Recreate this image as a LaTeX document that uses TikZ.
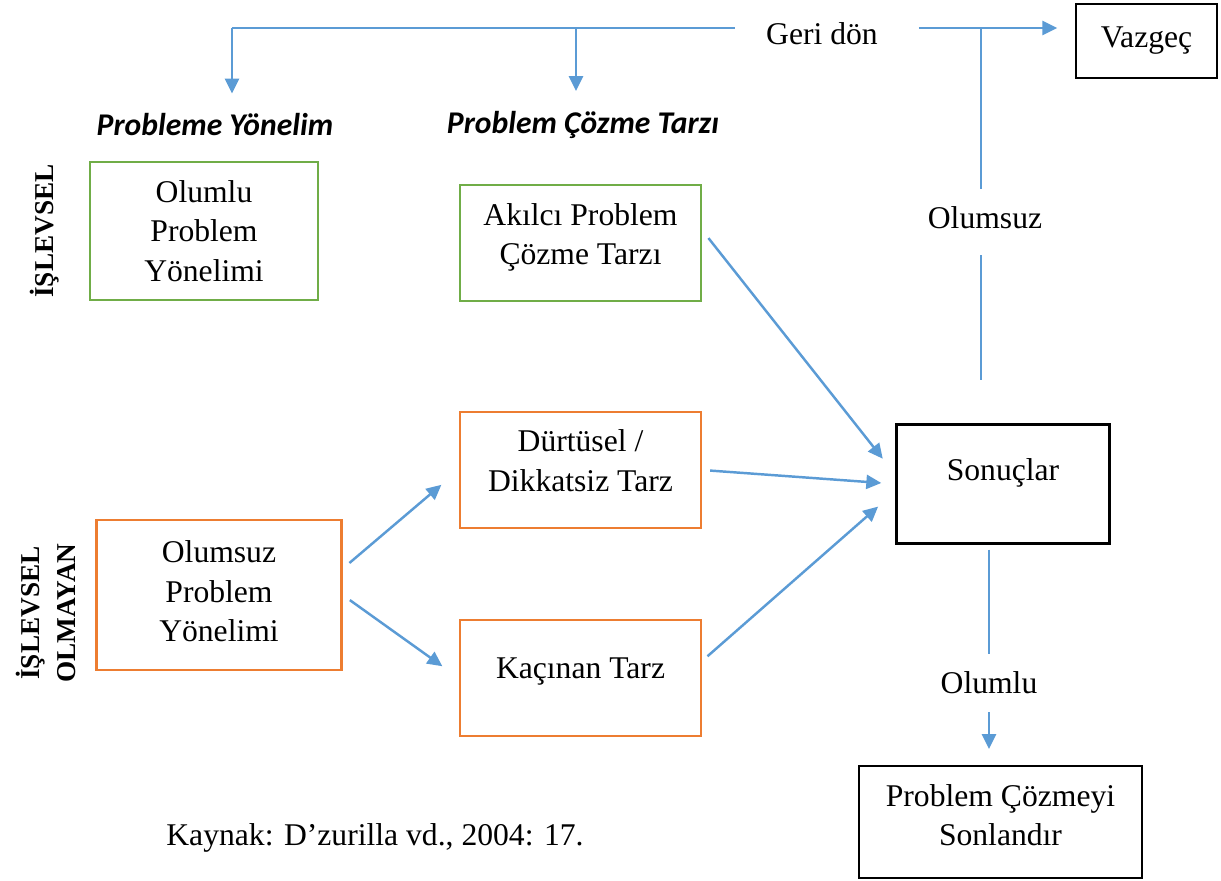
\documentclass[tikz,border=0pt]{standalone}
\usepackage{fontspec}
\setmainfont{Liberation Serif}
\newfontfamily\hdfont{Carlito}
\usepackage{tikz}
\usetikzlibrary{arrows.meta}
\definecolor{lnblue}{HTML}{5B9BD5}
\definecolor{boxgreen}{HTML}{70AD47}
\definecolor{boxorange}{HTML}{ED7D31}

\begin{document}
\begin{tikzpicture}[x=0.02cm,y=-0.02cm,>={Triangle[length=8.5pt,width=8pt]},
    every node/.style={font=\fontsize{18}{22.5}\selectfont},
    kutu/.style={draw,line width=1.4pt,align=center,inner sep=0pt},
    okk/.style={->,lnblue,line width=1.4pt},
    ince/.style={lnblue,line width=0.8pt},
    baslik/.style={font=\hdfont\bfseries\itshape\fontsize{18}{22}\selectfont},
    yan/.style={rotate=90,align=center,font=\bfseries\fontsize{15.5}{20}\selectfont}]
    \useasboundingbox (0,0) rectangle (1221,881);

    \node[kutu,draw=boxgreen,minimum width=4.56cm,minimum height=2.76cm] (olumlupy) at (204,231) {Olumlu\\Problem\\Yönelimi};
    \node[kutu,draw=boxgreen,minimum width=4.82cm,minimum height=2.32cm,text depth=10pt] (akilci) at (580.5,243) {Akılcı Problem\\Çözme Tarzı};
    \node[kutu,draw=boxorange,minimum width=4.82cm,minimum height=2.32cm,text depth=11pt] (durtusel) at (580.5,470) {Dürtüsel /\\Dikkatsiz Tarz};
    \node[kutu,draw=boxorange,minimum width=4.9cm,minimum height=3cm,text depth=4pt] (olumsuzpy) at (219,595) {Olumsuz\\Problem\\Yönelimi};
    \node[kutu,draw=boxorange,minimum width=4.82cm,minimum height=2.32cm,text depth=11pt] (kacinan) at (580.5,678) {Kaçınan Tarz};
    \node[kutu,minimum width=4.26cm,minimum height=2.38cm,text depth=16pt] (sonuc) at (1003,484) {Sonuçlar};
    \node[kutu,minimum width=2.82cm,minimum height=1.48cm] (vazgec) at (1146.5,41) {Vazgeç};
    \node[kutu,minimum width=5.66cm,minimum height=2.24cm,text depth=8pt] (sonlandir) at (1000.5,822) {Problem Çözmeyi\\Sonlandır};

    \node[baslik] (pyonelim) at (215,125) {Probleme Yönelim};
    \node[baslik] (pctarzi) at (583,125) {Problem Çözme Tarzı};
    \node[yan] (islevsel) at (45,231) {İŞLEVSEL};
    \node[yan] (islevselol) at (46,613) {İŞLEVSEL\\OLMAYAN};
    \node[inner xsep=0.62cm] (geri) at (822,34) {Geri dön};
    \node[inner ysep=0.36cm] (olumsuz) at (985,218) {Olumsuz};
    \node[inner ysep=0.36cm] (olumlu) at (989,683) {Olumlu};
    \node (kaynak) at (375,838) {Kaynak: D’zurilla vd., 2004: 17.};

    \coordinate (gl) at (232,28);
    \coordinate (gm) at (576,28);
    \coordinate (gv) at (981,28);

    \draw[ince] (gl) -- (gl -| geri.west);
    \draw[okk,shorten <=5.5pt,shorten >=10pt] (geri.east |- gv) -- (vazgec.west |- gv);
    \draw[okk,shorten >=8pt] (gl) -- (gl |- pyonelim.north);
    \draw[okk,shorten >=8pt] (gm) -- (gm |- pctarzi.north);
    \draw[ince] (gv) -- (gv |- olumsuz.north);
    \draw[ince,shorten <=4.5pt,shorten >=24.5pt] (gv |- olumsuz.south) -- (gv |- sonuc.north);
    \draw[ince,shorten <=2.8pt] (sonuc.south -| olumlu) -- (olumlu.north);
    \draw[okk,shorten >=9pt] (olumlu.south) -- (sonlandir.north -| olumlu);

    \path[okk]
    (akilci.6) edge[shorten <=5.7pt,shorten >=11.5pt] (sonuc.175)
    (durtusel.east) edge[shorten <=4.5pt,shorten >=8pt] (sonuc.west)
    (kacinan.8) edge[shorten <=4pt,shorten >=13pt] (sonuc.184)
    (olumsuzpy.12) edge[shorten <=5pt,shorten >=13pt] (durtusel.west)
    (olumsuzpy.east) edge[shorten <=5pt,shorten >=11.5pt] (kacinan.west);
\end{tikzpicture}
\end{document}
